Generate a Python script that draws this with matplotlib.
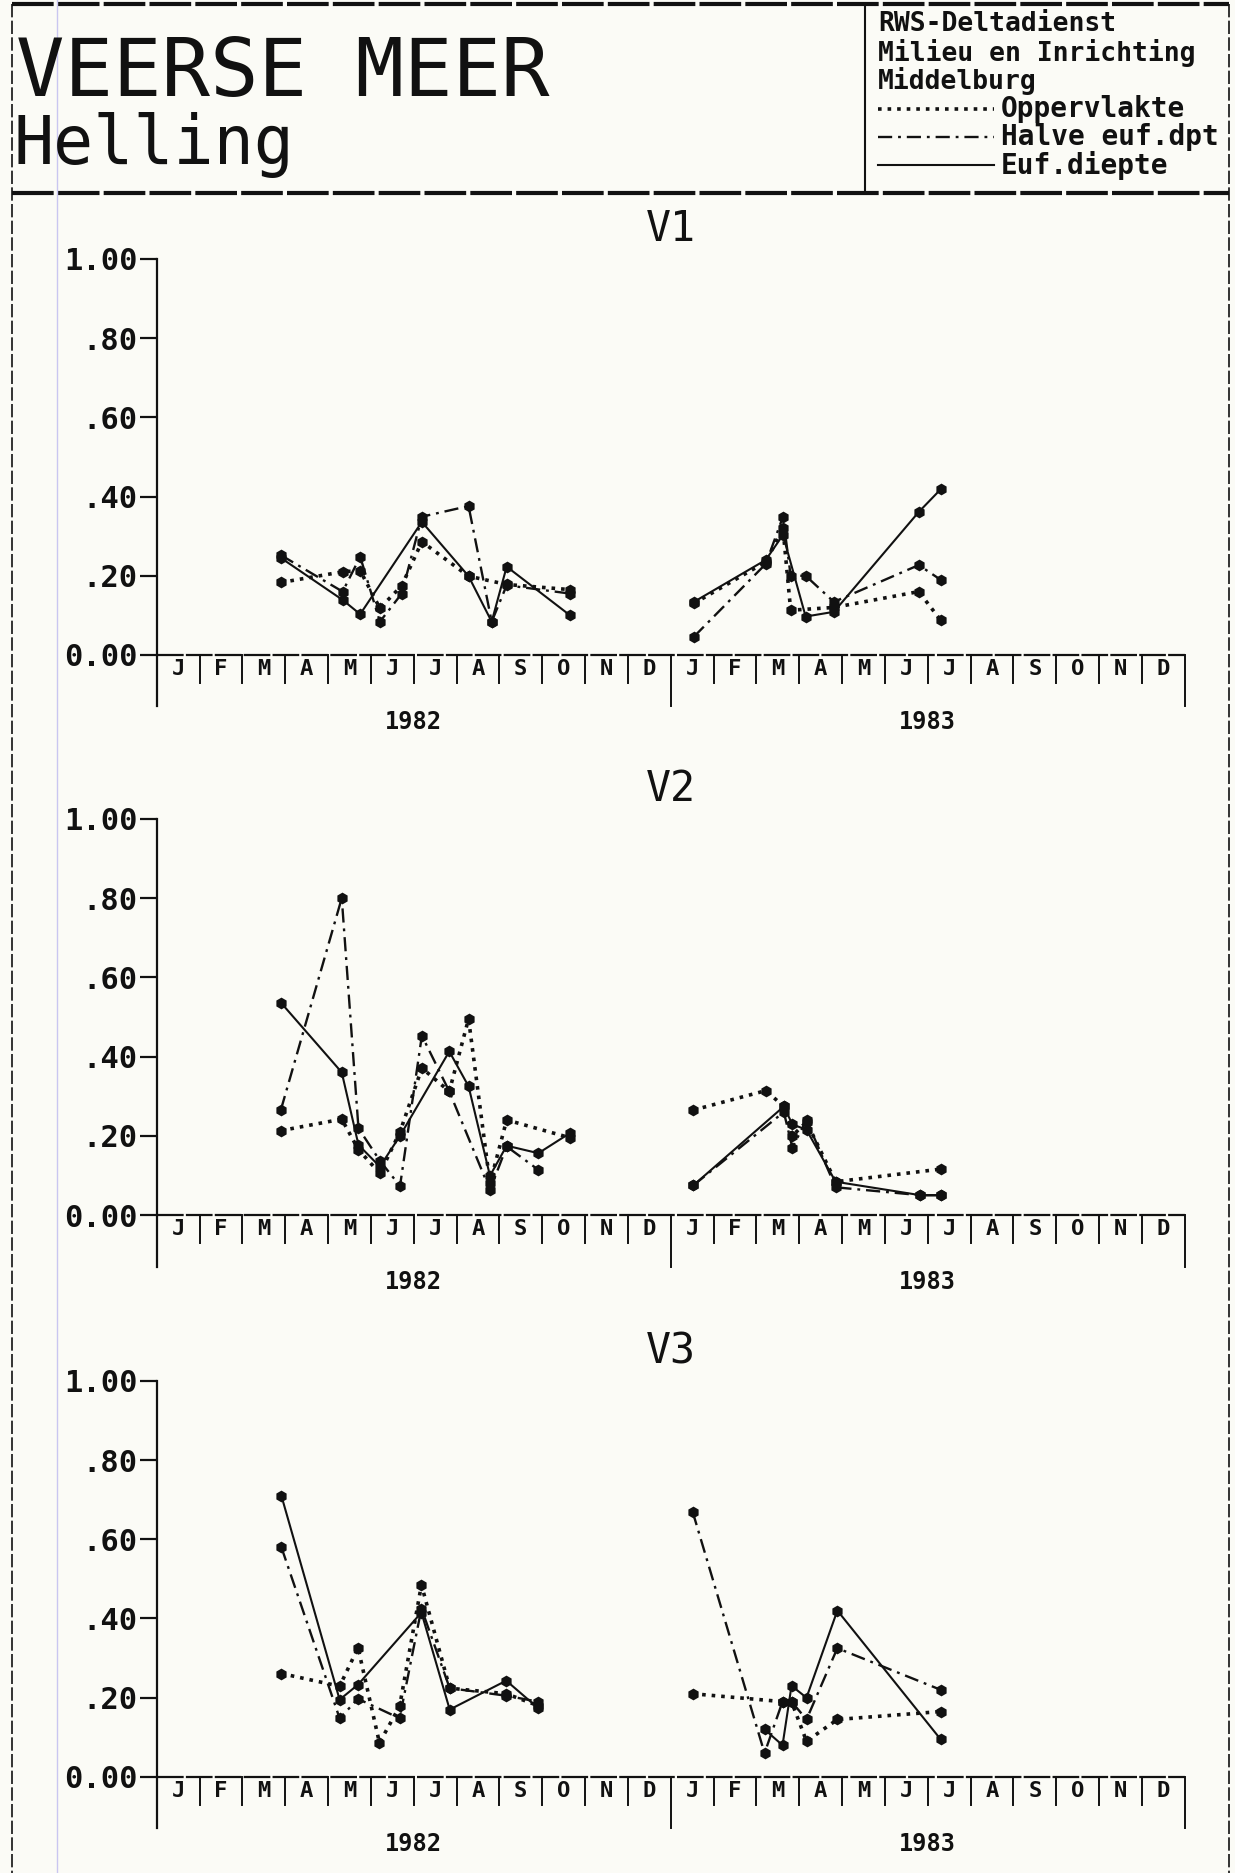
import matplotlib
matplotlib.use('Agg')
import matplotlib.pyplot as plt

# month labels / ticks
months = ['J', 'F', 'M', 'A', 'M', 'J', 'J', 'A', 'S', 'O', 'N', 'D'] * 2
years = ['1982', '1983']
yticks = [0.0, 0.2, 0.4, 0.6, 0.8, 1.0]
ytick_labels = ['0.00', '.20', '.40', '.60', '.80', '1.00']
panels = ['V1', 'V2', 'V3']
series_names = ['Oppervlakte', 'Halve euf.dpt', 'Euf.diepte']
header_lines = ['RWS-Deltadienst', 'Milieu en Inrichting', 'Middelburg']

# time = months since 1 Jan 1982 (13.5 = mid Feb 1983)
# V1
v1_opp_t = [2.90, 4.34, 4.75, 5.21, 5.72, 6.19, 7.28, 8.17, 9.65,
            12.54, 14.22, 14.62, 14.80, 15.81, 17.79, 18.30]
v1_opp = [0.183, 0.21, 0.213, 0.118, 0.175, 0.286, 0.199, 0.178, 0.165,
          0.13, 0.235, 0.32, 0.113, 0.12, 0.16, 0.088]
v1_halve_t = [2.90, 4.34, 4.75, 5.21, 5.72, 6.19, 7.28, 7.82, 8.17, 9.65,
              12.54, 14.22, 14.62, 14.80, 15.15, 15.81, 17.79, 18.30]
v1_halve = [0.252, 0.16, 0.248, 0.084, 0.155, 0.349, 0.376, 0.084, 0.176, 0.155,
            0.046, 0.23, 0.349, 0.20, 0.20, 0.134, 0.227, 0.19]
v1_euf_t = [2.90, 4.34, 4.75, 6.19, 7.28, 7.82, 8.17, 9.65,
            12.54, 14.22, 14.62, 15.15, 15.81, 17.79, 18.30]
v1_euf = [0.245, 0.139, 0.103, 0.336, 0.199, 0.084, 0.223, 0.10,
          0.134, 0.24, 0.303, 0.097, 0.109, 0.361, 0.418]

# V2
v2_opp_t = [2.90, 4.32, 4.71, 5.21, 5.68, 6.19, 6.83, 7.28, 7.78, 8.17, 9.65,
            12.53, 14.22, 14.64, 14.84, 15.17, 15.85, 18.31]
v2_opp = [0.213, 0.242, 0.165, 0.105, 0.21, 0.371, 0.312, 0.495, 0.08, 0.24, 0.195,
          0.265, 0.314, 0.274, 0.20, 0.235, 0.084, 0.116]
v2_halve_t = [2.90, 4.32, 4.71, 5.21, 5.68, 6.19, 6.83, 7.78, 8.17, 8.91,
              12.53, 14.64, 14.84, 15.17, 15.85, 17.83, 18.31]
v2_halve = [0.266, 0.80, 0.219, 0.137, 0.073, 0.453, 0.312, 0.063, 0.173, 0.114,
            0.075, 0.26, 0.17, 0.24, 0.07, 0.05, 0.05]
v2_euf_t = [2.90, 4.32, 4.71, 5.21, 5.68, 6.83, 7.28, 7.78, 8.17, 8.91, 9.65,
            12.53, 14.64, 14.84, 15.17, 15.85, 17.83, 18.31]
v2_euf = [0.536, 0.36, 0.177, 0.122, 0.20, 0.413, 0.325, 0.099, 0.175, 0.156, 0.207,
          0.075, 0.274, 0.229, 0.215, 0.084, 0.05, 0.05]

# V3
v3_opp_t = [2.91, 4.27, 4.70, 5.20, 5.67, 6.18, 6.84, 8.16, 8.90,
            12.51, 14.61, 14.82, 15.17, 15.89, 18.30]
v3_opp = [0.261, 0.229, 0.326, 0.086, 0.178, 0.485, 0.224, 0.21, 0.18,
          0.21, 0.19, 0.19, 0.09, 0.145, 0.165]
v3_halve_t = [2.91, 4.27, 4.70, 5.67, 6.18, 6.84, 8.16, 8.90,
              12.51, 14.19, 14.61, 14.82, 15.17, 15.89, 18.30]
v3_halve = [0.58, 0.148, 0.197, 0.148, 0.425, 0.224, 0.205, 0.19,
            0.67, 0.06, 0.19, 0.19, 0.145, 0.325, 0.22]
v3_euf_t = [2.91, 4.27, 4.70, 6.18, 6.84, 8.16, 8.90,
            14.19, 14.61, 14.82, 15.17, 15.89, 18.30]
v3_euf = [0.71, 0.195, 0.233, 0.415, 0.17, 0.243, 0.174,
          0.12, 0.08, 0.23, 0.20, 0.42, 0.095]

panel_data = [
    [(v1_opp_t, v1_opp), (v1_halve_t, v1_halve), (v1_euf_t, v1_euf)],
    [(v2_opp_t, v2_opp), (v2_halve_t, v2_halve), (v2_euf_t, v2_euf)],
    [(v3_opp_t, v3_opp), (v3_halve_t, v3_halve), (v3_euf_t, v3_euf)],
]

ink = '#111111'
paper = '#fbfbf6'
mono = ['DejaVu Sans Mono']
styles = [dict(linestyle=':', linewidth=2.6),
          dict(linestyle=(0, (6, 2.5, 1.2, 2.5)), linewidth=1.7),
          dict(linestyle='-', linewidth=1.5)]

fig = plt.figure(figsize=(12.35, 18.73), dpi=100, facecolor=paper)

# frame / header drawn in pixel units
bg = fig.add_axes([0, 0, 1, 1])
bg.set_xlim(0, 1235)
bg.set_ylim(1873, 0)
bg.axis('off')
bg.plot([12, 1229], [4, 4], color=ink, lw=3, ls=(0, (10, 1)))
bg.plot([12, 1229], [193, 193], color=ink, lw=3, ls=(0, (10, 1)))
bg.plot([865, 865], [4, 193], color=ink, lw=1.5)
bg.plot([12, 12], [4, 1873], color=ink, lw=1.2, ls=(0, (8, 2)))
bg.plot([1229, 1229], [4, 1873], color=ink, lw=1.2, ls=(0, (8, 2)))
bg.plot([57, 57], [0, 1873], color='#c9c6f0', lw=1)

bg.text(16, 96, 'VEERSE MEER', fontsize=58, family=mono, weight='normal',
        color=ink, va='baseline', ha='left')
bg.text(14, 164, 'Helling', fontsize=48, family=mono, weight='normal',
        color=ink, va='baseline', ha='left')
for i, line in enumerate(header_lines):
    bg.text(878, 24 + i * 28.5, line, fontsize=19, family=mono, weight='bold',
            color=ink, va='center', ha='left')
for i, name in enumerate(series_names):
    yy = 109 + i * 28
    bg.plot([878, 994], [yy, yy], color=ink, **styles[i])
    bg.text(1001, yy, name, fontsize=20, family=mono, weight='bold',
            color=ink, va='center', ha='left')

left, width, height = 0.1269, 0.8324, 0.2115
bottoms = [0.6503, 0.3513, 0.0513]

for p, name in enumerate(panels):
    ax = fig.add_axes([left, bottoms[p], width, height])
    ax.set_facecolor('none')
    ax.set_xlim(0, 24)
    ax.set_ylim(0, 1)
    for s in ax.spines.values():
        s.set_visible(False)
    ax.set_xticks([])
    ax.set_yticks(yticks, ytick_labels)
    ax.tick_params(axis='y', direction='out', length=12, width=1.6, color=ink,
                   pad=2, labelsize=22, labelcolor=ink)
    for lab in ax.get_yticklabels():
        lab.set_family(mono)
        lab.set_weight('bold')

    # axis lines
    ax.plot([0, 0], [-0.13, 1], color=ink, lw=1.6, clip_on=False)
    ax.plot([0, 24], [0, 0], color=ink, lw=1.6, clip_on=False,
            ls=(0, (12, 1)))
    for m in range(1, 25):
        low = -0.13 if m in (12, 24) else -0.07
        ax.plot([m, m], [0, low], color=ink, lw=1.4, clip_on=False)
    for m, lab in enumerate(months):
        ax.text(m + 0.5, -0.035, lab, ha='center', va='center', fontsize=16,
                family=mono, weight='bold', color=ink)
    for k, yr in enumerate(years):
        ax.text(6 + 12 * k, -0.17, yr, ha='center', va='center', fontsize=17,
                family=mono, weight='bold', color=ink)
    ax.text(12, 1.075, name, ha='center', va='center', fontsize=30,
            family=mono, weight='normal', color=ink)

    for i, (t, v) in enumerate(panel_data[p]):
        for yr in range(2):
            tt = [a for a in t if 12 * yr <= a < 12 * (yr + 1)]
            vv = [b for a, b in zip(t, v) if 12 * yr <= a < 12 * (yr + 1)]
            ax.plot(tt, vv, color=ink, marker='h', markersize=8.5,
                    markeredgewidth=0, clip_on=False, **styles[i])

fig.savefig('out.png', dpi=100, facecolor=paper)
